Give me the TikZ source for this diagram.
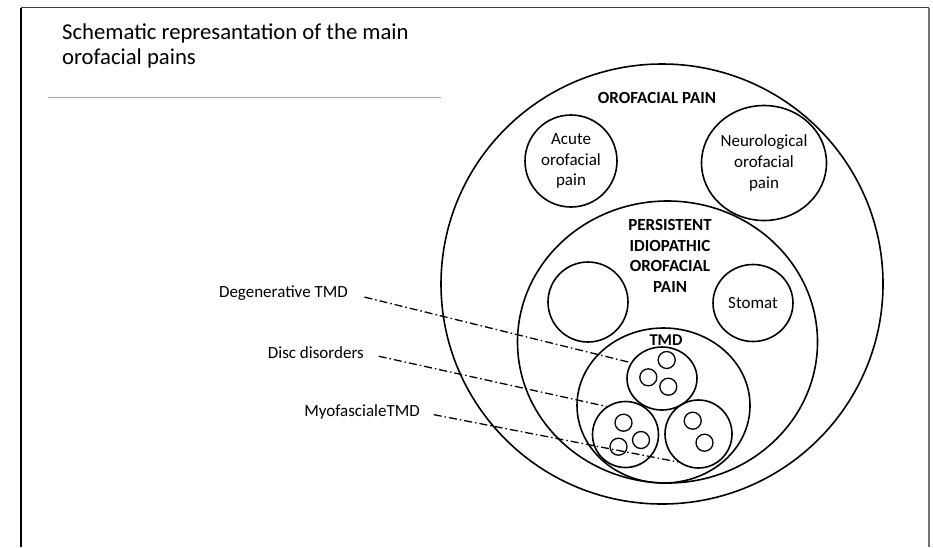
\documentclass[tikz,border=0pt]{standalone}
\usepackage{fontspec}
\setmainfont{Carlito}
\usetikzlibrary{shapes.geometric}

\begin{document}
\begin{tikzpicture}[x=1pt, y=-1pt,
  bubble/.style={draw, ellipse, line width=1.6pt, inner sep=0pt, align=center, font=\fontsize{17}{20.7}\selectfont},
  pebble/.style={draw, circle, line width=1.3pt, minimum size=17pt, inner sep=0pt},
  heading/.style={font=\bfseries\fontsize{17}{20.7}\selectfont, align=center, inner sep=0pt},
  sidetext/.style={font=\fontsize{17}{20.5}\selectfont, inner sep=0pt, anchor=east},
  leaderline/.style={line width=1.3pt, dash pattern=on 8pt off 3pt on 1.5pt off 3pt}]
\useasboundingbox (0,0) rectangle (933,547);

% frame and title
\draw[line width=1.6pt] (21,547) -- (21,7.5);
\draw[line width=1pt, black!75] (21,7.5) -- (929,7.5);
\draw[line width=2pt, black!55] (929,7.5) -- (929,547);
\node[font=\fontsize{22.7}{25.7}\selectfont, align=left, anchor=west, inner sep=0pt] (title) at (62,46) {Schematic represantation of the main\\orofacial pains};
\draw[line width=1pt, black!35] (48,97) -- (441,97);

% nested circles
\node[bubble, minimum width=442pt, minimum height=440pt] (orofacial) at (662,284) {};
\node[bubble, minimum size=92pt] (acute) at (571,161) {Acute\\orofacial\\pain};
\node[bubble, minimum width=125pt, minimum height=115pt] (neuro) at (764,163) {Neurological\\orofacial\\pain};
\node[bubble, minimum width=300pt, minimum height=282pt] (persistent) at (667.5,342) {};
\node[bubble, minimum size=80pt] (blank) at (588,302) {};
\node[bubble, minimum width=80pt, minimum height=77pt] (stomat) at (753,303) {Stomat};
\node[bubble, minimum width=173pt, minimum height=155pt] (tmd) at (663.5,405.5) {};
\node[bubble, minimum width=70pt, minimum height=63pt] (degen) at (662,378.5) {};
\node[bubble, minimum size=66pt] (disc) at (625.5,434.5) {};
\node[bubble, minimum width=67pt, minimum height=68pt] (myo) at (698.5,434) {};

\foreach \pos [count=\i] in {(666.7,360), (648.3,377.3), (668.3,386.7),
    (623.5,422.7), (641,440), (618.5,446.7), (692.7,420.7), (704.5,442.7)}
  \node[pebble] (pebble\i) at \pos {};

% headings
\node[heading] (orotext) at (657,98) {OROFACIAL PAIN};
\node[heading] (pertext) at (670,256) {PERSISTENT\\IDIOPATHIC\\OROFACIAL\\PAIN};
\node[heading, font=\bfseries\fontsize{16.5}{18}\selectfont] (tmdtext) at (666,340) {TMD};

% side labels
\node[sidetext] (degenlabel) at (348,293) {Degenerative TMD};
\node[sidetext] (disclabel) at (364,353) {Disc disorders};
\node[sidetext] (myolabel) at (420,412) {MyofascialeTMD};

\draw[leaderline, shorten <=17pt] (degenlabel.east) -- (degen.153);
\draw[leaderline, shorten <=15pt] (disclabel.east) -- (disc.124);
\draw[leaderline, shorten <=14pt] (myolabel.east) -- (myo.234);
\end{tikzpicture}
\end{document}
